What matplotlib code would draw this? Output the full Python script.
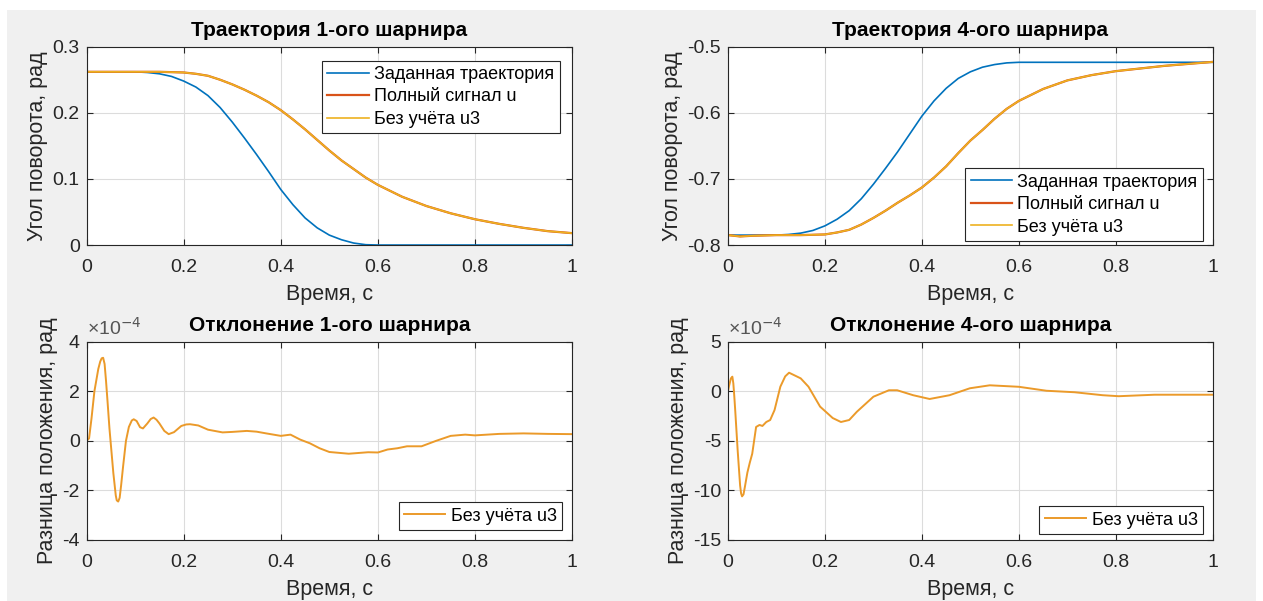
import matplotlib.pyplot as plt
from matplotlib.patches import Rectangle

plt.rcParams['font.family'] = ['Liberation Sans', 'DejaVu Sans']

# trajectory of joint 1 (rad)
t1_ref = [0, 0.05, 0.10, 0.125, 0.15, 0.175, 0.20, 0.225, 0.25, 0.275, 0.30, 0.325, 0.35,
          0.375, 0.40, 0.425, 0.45, 0.475, 0.50, 0.525, 0.55, 0.575, 0.60, 0.8, 1.0]
q1_ref = [0.262, 0.262, 0.262, 0.261, 0.259, 0.255, 0.248, 0.239, 0.226, 0.208, 0.186, 0.162, 0.137,
          0.111, 0.084, 0.061, 0.041, 0.026, 0.015, 0.008, 0.003, 0.0005, 0.0, 0.0, 0.0]
t1_sim = [0, 0.1, 0.15, 0.2, 0.225, 0.25, 0.275, 0.3, 0.325, 0.35, 0.375, 0.4, 0.425, 0.45, 0.475,
          0.5, 0.525, 0.55, 0.575, 0.6, 0.65, 0.7, 0.75, 0.8, 0.85, 0.9, 0.95, 1.0]
q1_sim = [0.262, 0.262, 0.262, 0.261, 0.259, 0.256, 0.250, 0.243, 0.235, 0.226, 0.216, 0.204, 0.190,
          0.175, 0.159, 0.143, 0.128, 0.115, 0.102, 0.091, 0.073, 0.059, 0.048, 0.039, 0.032, 0.026,
          0.021, 0.018]

# trajectory of joint 4 (rad)
t4_ref = [0, 0.1, 0.125, 0.15, 0.175, 0.2, 0.225, 0.25, 0.275, 0.3, 0.325, 0.35, 0.375, 0.4, 0.425,
          0.45, 0.475, 0.5, 0.525, 0.55, 0.575, 0.6, 0.8, 1.0]
q4_ref = [-0.785, -0.785, -0.784, -0.782, -0.778, -0.771, -0.761, -0.748, -0.730, -0.708, -0.684,
          -0.659, -0.632, -0.605, -0.582, -0.563, -0.548, -0.538, -0.531, -0.527, -0.5245, -0.5236,
          -0.5236, -0.5236]
t4_sim = [0, 0.025, 0.05, 0.1, 0.15, 0.2, 0.225, 0.25, 0.275, 0.3, 0.325, 0.35, 0.375, 0.4, 0.425,
          0.45, 0.475, 0.5, 0.525, 0.55, 0.575, 0.6, 0.65, 0.7, 0.75, 0.8, 0.85, 0.9, 0.95, 1.0]
q4_sim = [-0.785, -0.787, -0.786, -0.785, -0.785, -0.784, -0.781, -0.777, -0.769, -0.759, -0.748,
          -0.736, -0.725, -0.713, -0.698, -0.681, -0.661, -0.642, -0.626, -0.609, -0.594, -0.582,
          -0.564, -0.551, -0.543, -0.537, -0.533, -0.529, -0.526, -0.523]

# deviation, units of 1e-4 rad
t1_err = [0, 0.005, 0.01, 0.016, 0.024, 0.028, 0.031, 0.034, 0.037, 0.04, 0.043, 0.047, 0.051,
          0.055, 0.06, 0.062, 0.065, 0.068, 0.071, 0.075, 0.081, 0.087, 0.093, 0.097, 0.103, 0.11,
          0.116, 0.125, 0.132, 0.138, 0.144, 0.15, 0.16, 0.169, 0.18, 0.195, 0.205, 0.213, 0.23,
          0.25, 0.28, 0.30, 0.33, 0.35, 0.37, 0.40, 0.42, 0.44, 0.46, 0.48, 0.50, 0.54, 0.58, 0.60,
          0.62, 0.64, 0.66, 0.69, 0.72, 0.75, 0.78, 0.80, 0.85, 0.90, 0.95, 1.0]
e1 = [0, 0.1, 0.9, 2.0, 2.9, 3.2, 3.33, 3.35, 3.1, 2.4, 1.6, 0.5, -0.4,
      -1.3, -2.2, -2.4, -2.45, -2.3, -1.8, -1.05, 0.0, 0.56, 0.82, 0.87, 0.8, 0.55,
      0.5, 0.7, 0.88, 0.94, 0.85, 0.7, 0.4, 0.27, 0.35, 0.6, 0.66, 0.67, 0.62,
      0.45, 0.34, 0.36, 0.4, 0.37, 0.3, 0.2, 0.25, 0.05, -0.1, -0.3, -0.45, -0.52, -0.46, -0.47,
      -0.35, -0.3, -0.22, -0.22, 0.0, 0.2, 0.25, 0.22, 0.28, 0.3, 0.28, 0.27]
t4_err = [0, 0.002, 0.006, 0.009, 0.011, 0.013, 0.015, 0.02, 0.025, 0.027, 0.029, 0.032, 0.035,
          0.04, 0.045, 0.05, 0.058, 0.065, 0.071, 0.079, 0.087, 0.096, 0.108, 0.118, 0.126, 0.15,
          0.166, 0.19, 0.216, 0.233, 0.25, 0.266, 0.3, 0.332, 0.349, 0.382, 0.416, 0.457, 0.499,
          0.54, 0.6, 0.657, 0.715, 0.773, 0.806, 0.88, 1.0]
e4 = [0, 0.5, 1.3, 1.47, 0.8, -0.5, -2.0, -6.0, -9.5, -10.3, -10.6, -10.4, -9.6,
      -8.2, -7.2, -6.3, -3.6, -3.4, -3.5, -3.1, -2.9, -1.9, 0.46, 1.5, 1.87, 1.3,
      0.46, -1.55, -2.7, -3.1, -2.9, -2.06, -0.55, 0.1, 0.1, -0.4, -0.78, -0.4, 0.3,
      0.6, 0.45, 0.05, -0.1, -0.4, -0.5, -0.35, -0.35]

xticks = [0, 0.2, 0.4, 0.6, 0.8, 1]
xticklabels = ['0', '0.2', '0.4', '0.6', '0.8', '1']

c_blue = '#0072BD'
c_red = '#D95319'
c_yel = '#EDB120'
c_err = '#EB9A2A'
txt = '#262626'

fig = plt.figure(figsize=(12.63, 6.01), dpi=100)
fig.patch.set_facecolor('white')
fig.patches.append(Rectangle((7 / 1263, 0), 1249 / 1263, 591 / 601, transform=fig.transFigure,
                             facecolor='#f0f0f0', edgecolor='none', zorder=-10))

ax1 = fig.add_axes([0.0686, 0.5923, 0.3843, 0.330])
ax2 = fig.add_axes([0.5764, 0.5923, 0.3838, 0.330])
ax3 = fig.add_axes([0.0686, 0.1015, 0.3843, 0.330])
ax4 = fig.add_axes([0.5764, 0.1015, 0.3838, 0.330])


def style(ax, title, ylabel):
    ax.set_xlim(0, 1)
    ax.set_xticks(xticks)
    ax.set_xticklabels(xticklabels)
    ax.grid(True, color='#dcdcdc', linewidth=0.8)
    ax.set_axisbelow(True)
    ax.tick_params(direction='in', top=True, right=True, length=4, labelsize=14,
                   colors=txt, width=0.8)
    ax.tick_params(axis='x', pad=10)
    ax.tick_params(axis='y', pad=5)
    for s in ax.spines.values():
        s.set_color(txt)
        s.set_linewidth(0.8)
    ax.set_title(title, fontsize=15, fontweight='bold', color='black', pad=8)
    ax.set_xlabel('Время, с', fontsize=15.5, color=txt, labelpad=6)
    ax.set_ylabel(ylabel, fontsize=15.5, color=txt, labelpad=3)


leg_kw = dict(fontsize=13, fancybox=False, framealpha=1, edgecolor=txt, handlelength=2.3,
              borderpad=0.3, labelspacing=0.3, handletextpad=0.3, borderaxespad=0)

ax1.plot(t1_ref, q1_ref, color=c_blue, lw=1.2, label='Заданная траектория')
ax1.plot(t1_sim, q1_sim, color=c_red, lw=1.6, label='Полный сигнал u')
ax1.plot(t1_sim, q1_sim, color=c_yel, lw=1.2, label='Без учёта u3')
ax1.set_ylim(0, 0.3)
ax1.set_yticks([0, 0.1, 0.2, 0.3])
ax1.set_yticklabels(['0', '0.1', '0.2', '0.3'])
style(ax1, 'Траектория 1-ого шарнира', 'Угол поворота, рад')
leg = ax1.legend(loc='upper right', bbox_to_anchor=(0.975, 0.93), **leg_kw)
leg.get_frame().set_linewidth(0.8)

ax2.plot(t4_ref, q4_ref, color=c_blue, lw=1.2, label='Заданная траектория')
ax2.plot(t4_sim, q4_sim, color=c_red, lw=1.6, label='Полный сигнал u')
ax2.plot(t4_sim, q4_sim, color=c_yel, lw=1.2, label='Без учёта u3')
ax2.set_ylim(-0.8, -0.5)
ax2.set_yticks([-0.8, -0.7, -0.6, -0.5])
ax2.set_yticklabels(['-0.8', '-0.7', '-0.6', '-0.5'])
style(ax2, 'Траектория 4-ого шарнира', 'Угол поворота, рад')
leg = ax2.legend(loc='lower right', bbox_to_anchor=(0.98, 0.02), **leg_kw)
leg.get_frame().set_linewidth(0.8)

ax3.plot(t1_err, e1, color=c_err, lw=1.4, label='Без учёта u3')
ax3.set_ylim(-4, 4)
ax3.set_yticks([-4, -2, 0, 2, 4])
ax3.set_yticklabels(['-4', '-2', '0', '2', '4'])
style(ax3, 'Отклонение 1-ого шарнира', 'Разница положения, рад')
leg = ax3.legend(loc='lower right', bbox_to_anchor=(0.98, 0.05), **leg_kw)
leg.get_frame().set_linewidth(0.8)
ax3.text(0.0, 1.015, '×10$^{-4}$', transform=ax3.transAxes, fontsize=14, color='#555555',
         ha='left', va='bottom')

ax4.plot(t4_err, e4, color=c_err, lw=1.4, label='Без учёта u3')
ax4.set_ylim(-15, 5)
ax4.set_yticks([-15, -10, -5, 0, 5])
ax4.set_yticklabels(['-15', '-10', '-5', '0', '5'])
style(ax4, 'Отклонение 4-ого шарнира', 'Разница положения, рад')
leg = ax4.legend(loc='lower right', bbox_to_anchor=(0.98, 0.03), **leg_kw)
leg.get_frame().set_linewidth(0.8)
ax4.text(0.0, 1.015, '×10$^{-4}$', transform=ax4.transAxes, fontsize=14, color='#555555',
         ha='left', va='bottom')

fig.savefig('out.png', dpi=100, facecolor=fig.get_facecolor())
